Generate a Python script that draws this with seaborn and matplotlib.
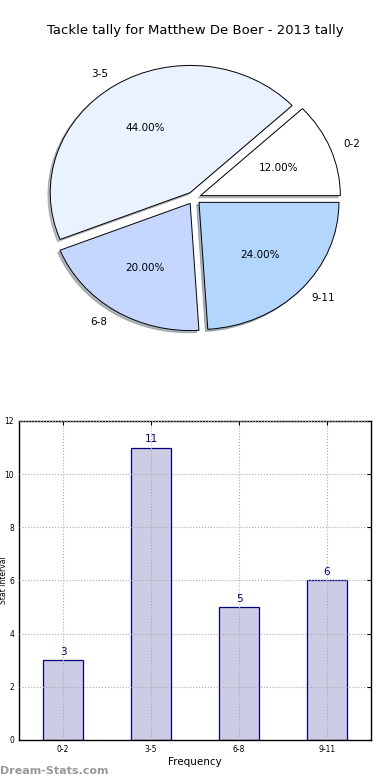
import matplotlib
matplotlib.use("Agg")
import matplotlib.pyplot as plt
import seaborn as sns

# Data
categories = ['0-2', '3-5', '6-8', '9-11']
counts = [3, 11, 5, 6]
pie_colors = ['#FFFFFF', '#EAF1FF', '#C5D7FF', '#B3D6FF']
title = 'Tackle tally for Matthew De Boer - 2013 tally'

sns.set_style("white")
plt.rcParams['font.family'] = ['DejaVu Sans']
plt.rcParams['text.color'] = 'black'
plt.rcParams['axes.labelcolor'] = 'black'
plt.rcParams['xtick.color'] = 'black'
plt.rcParams['ytick.color'] = 'black'
plt.rcParams['xtick.direction'] = 'in'
plt.rcParams['ytick.direction'] = 'in'

fig = plt.figure(figsize=(3.9, 7.8), dpi=100)

# Pie chart
ax1 = fig.add_axes([0.0487, 0.5423, 0.897, 0.4077])
ax1.pie(counts, labels=categories, colors=pie_colors, explode=[0.05] * len(counts),
        autopct='%1.2f%%', startangle=0, counterclock=True,
        shadow={'ox': -0.012, 'oy': -0.012, 'shade': 0.5},
        wedgeprops={'edgecolor': 'black', 'linewidth': 0.7},
        textprops={'fontsize': 7.5, 'color': 'black'}, frame=False)
ax1.set_aspect('auto')
ax1.set_xlim(-1.25, 1.25)
ax1.set_ylim(-1.25, 1.25)
ax1.axis('off')
fig.text(0.5, 0.961, title, ha='center', va='center', fontsize=9.5, color='black')

# Bar chart
ax2 = fig.add_axes([0.0487, 0.0513, 0.9026, 0.409])
sns.barplot(x=categories, y=counts, color='#CCCCE5', edgecolor='#000080',
            linewidth=0.9, width=0.45, saturation=1, ax=ax2, zorder=2)
ax2.set_xlim(-0.5, 3.5)
ax2.set_ylim(0, 12)
ax2.set_yticks([0, 2, 4, 6, 8, 10, 12])
ax2.grid(True, linestyle=':', color='#aaaaaa', linewidth=0.8, zorder=0)
ax2.set_axisbelow(False)
for s in ax2.spines.values():
    s.set_color('black')
    s.set_linewidth(1)
ax2.tick_params(labelsize=5.5, length=3, top=True, right=True, color='black')
for i, v in enumerate(counts):
    ax2.text(i, v + 0.12, str(v), ha='center', va='bottom', fontsize=7.5, color='#000080')
ax2.set_xlabel('Frequency', fontsize=7.5, labelpad=2)
ax2.set_ylabel('Stat Interval', fontsize=5.5)
ax2.yaxis.set_label_coords(-0.031, 0.5)

fig.text(0.0, 0.012, 'Dream-Stats.com', ha='left', va='center', fontsize=8,
         color='#999999', fontweight='bold')

fig.savefig('out.png', dpi=100)
